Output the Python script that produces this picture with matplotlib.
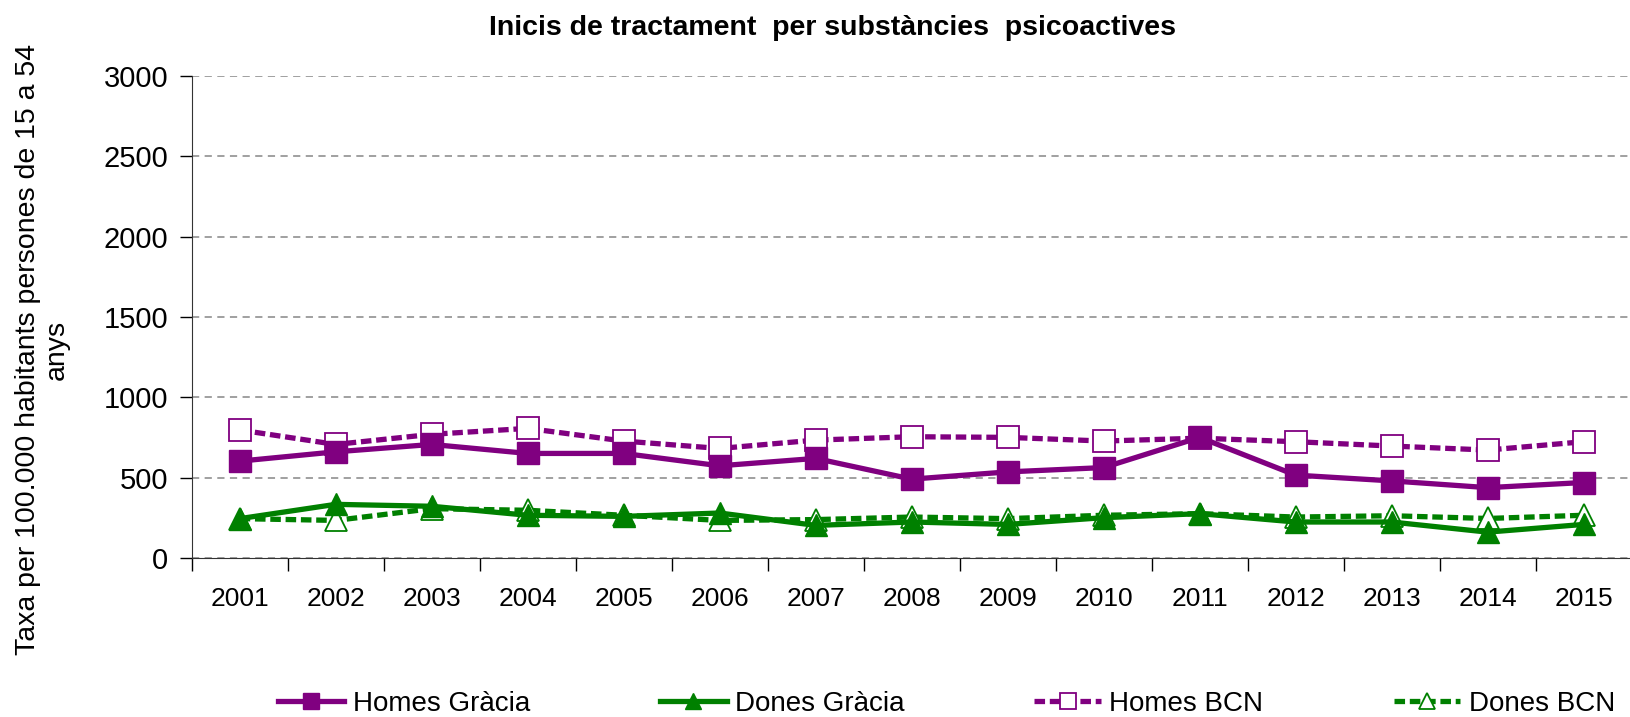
import matplotlib
matplotlib.use('Agg')
import matplotlib.pyplot as plt

plt.rcParams['font.family'] = ['Liberation Sans', 'DejaVu Sans']

years = ['2001', '2002', '2003', '2004', '2005', '2006', '2007', '2008',
         '2009', '2010', '2011', '2012', '2013', '2014', '2015']

homes_gracia = [602, 660, 706, 650, 650, 573, 619, 490, 535, 562, 750, 515, 479, 437, 469]
dones_gracia = [244, 333, 321, 265, 258, 279, 202, 223, 208, 250, 275, 223, 223, 160, 208]
homes_bcn = [796, 706, 769, 806, 727, 681, 733, 754, 750, 727, 745, 723, 696, 671, 723]
dones_bcn = [244, 233, 306, 296, 265, 233, 238, 254, 244, 265, 275, 254, 262, 245, 265]

purple = '#800080'
green = '#008000'
dash = (0, (2.0, 0.9))

fig = plt.figure(figsize=(16.3, 7.17), dpi=100)
ax = fig.add_axes([0.1176, 0.222, 0.8834, 0.672])

x = list(range(len(years)))

ax.plot(x, homes_gracia, color=purple, lw=3.8, marker='s', markersize=15.5,
        markerfacecolor=purple, markeredgecolor=purple, label='Homes Gràcia', zorder=4)
ax.plot(x, dones_gracia, color=green, lw=3.8, marker='^', markersize=15.5,
        markerfacecolor=green, markeredgecolor=green, label='Dones Gràcia', zorder=4)
ax.plot(x, homes_bcn, color=purple, lw=3.8, ls=dash, marker='s', markersize=15.5,
        markerfacecolor='white', markeredgecolor=purple, markeredgewidth=1.3,
        label='Homes BCN', zorder=3)
ax.plot(x, dones_bcn, color=green, lw=3.8, ls=dash, marker='^', markersize=15.5,
        markerfacecolor='white', markeredgecolor=green, markeredgewidth=1.3,
        label='Dones BCN', zorder=3)

ax.set_xlim(-0.5, len(years) - 0.5)
ax.set_ylim(0, 3000)
ax.set_yticks(range(0, 3001, 500))
ax.set_xticks(x)
ax.set_xticklabels(years)
ax.set_xticks([i - 0.5 for i in range(len(years) + 1)], minor=True)
ax.tick_params(axis='x', which='major', length=0, labelsize=19, pad=21)
ax.tick_params(axis='x', which='minor', length=9, width=1, direction='out')
ax.tick_params(axis='y', length=9, width=1, direction='out', labelsize=21, pad=8)

ax.yaxis.grid(True, color='#999999', ls=(0, (4, 3)), lw=1.3)
ax.set_axisbelow(True)
for s in ['top', 'right']:
    ax.spines[s].set_visible(False)
ax.spines['left'].set_color('#333333')
ax.spines['bottom'].set_color('#333333')

fig.text(0.511, 0.961, 'Inicis de tractament  per substàncies  psicoactives',
         fontsize=20.5, fontweight='bold', ha='center', va='center')
fig.text(0.026, 0.512, 'Taxa per 100.000 habitants persones de 15 a 54\nanys',
         fontsize=20.5, rotation=90, ha='center', va='center', linespacing=1.15,
         multialignment='center')

fig.legend(loc='lower left', bbox_to_anchor=(0.155, -0.035, 0.851, 0.06), mode='expand',
           ncol=4, frameon=False, fontsize=20, handlelength=2.4, handletextpad=0.3,
           markerscale=0.75)

fig.savefig('out.png', dpi=100)
